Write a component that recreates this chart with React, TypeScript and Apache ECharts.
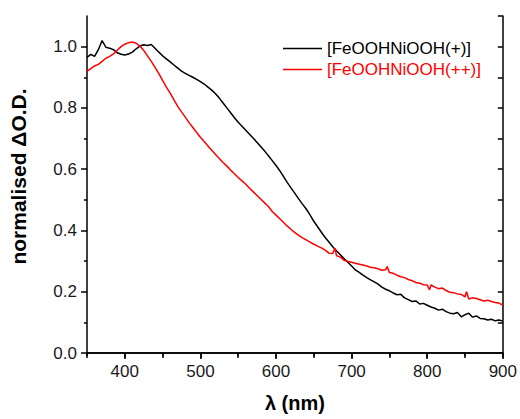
import React, { useEffect, useRef } from "react";
import * as echarts from "echarts";

const seriesNames = ["[FeOOHNiOOH(+)]", "[FeOOHNiOOH(++)]"];

// wavelength (nm), normalised ΔO.D.
const blackX = [350,355,360,365,370,375,380,385,390,395,400,405,410,415,420,425,430,435,440,445,450,455,460,465,470,475,480,485,490,495,500,505,510,515,520,525,530,535,540,545,550,555,560,565,570,575,580,585,590,595,600,605,610,615,620,625,630,635,640,645,650,655,660,665,670,675,680,685,690,695,700,705,710,715,720,725,730,735,740,745,750,755,760,765,770,775,780,785,790,795,800,805,810,815,820,825,830,835,840,845,850,855,860,865,870,875,880,885,890,895,900];
const blackY = [0.965,0.975,0.968,0.99,1.02,0.998,0.995,0.99,0.98,0.975,0.973,0.976,0.982,0.993,1.002,1.006,1.004,1.007,0.995,0.982,0.97,0.96,0.95,0.94,0.93,0.92,0.913,0.906,0.9,0.893,0.886,0.878,0.868,0.858,0.846,0.832,0.816,0.8,0.784,0.768,0.753,0.74,0.727,0.714,0.701,0.687,0.673,0.659,0.644,0.628,0.612,0.595,0.576,0.556,0.538,0.521,0.503,0.486,0.47,0.451,0.43,0.412,0.394,0.377,0.362,0.347,0.334,0.321,0.308,0.296,0.284,0.271,0.263,0.254,0.246,0.239,0.232,0.225,0.215,0.208,0.203,0.196,0.19,0.192,0.18,0.174,0.168,0.17,0.16,0.162,0.156,0.15,0.146,0.14,0.143,0.135,0.13,0.128,0.132,0.118,0.125,0.13,0.117,0.121,0.113,0.112,0.108,0.11,0.105,0.108,0.104];

const redX = [350,355,360,365,370,375,380,385,390,395,400,405,410,415,420,425,430,435,440,445,450,455,460,465,470,475,480,485,490,495,500,505,510,515,520,525,530,535,540,545,550,555,560,565,570,575,580,585,590,595,600,605,610,615,620,625,630,635,640,645,650,655,660,665,670,675,678,680,685,690,695,700,705,710,715,720,725,730,735,740,745,747,750,755,760,765,770,775,780,785,790,795,800,803,805,810,815,820,825,830,835,840,845,850,852,855,860,865,870,875,880,885,890,895,900];
const redY = [0.919,0.928,0.937,0.942,0.952,0.962,0.968,0.976,0.988,1.0,1.008,1.013,1.015,1.011,1.002,0.988,0.97,0.952,0.932,0.912,0.89,0.868,0.848,0.826,0.805,0.787,0.77,0.752,0.736,0.72,0.704,0.69,0.676,0.662,0.648,0.635,0.622,0.61,0.597,0.585,0.573,0.562,0.551,0.538,0.526,0.514,0.502,0.49,0.478,0.462,0.45,0.438,0.426,0.414,0.403,0.393,0.384,0.376,0.369,0.362,0.355,0.349,0.343,0.336,0.326,0.325,0.342,0.318,0.313,0.303,0.299,0.296,0.293,0.29,0.287,0.284,0.28,0.278,0.275,0.27,0.272,0.282,0.263,0.26,0.254,0.249,0.246,0.24,0.236,0.23,0.228,0.223,0.222,0.206,0.222,0.215,0.21,0.212,0.204,0.198,0.197,0.193,0.191,0.183,0.2,0.176,0.18,0.178,0.174,0.17,0.172,0.168,0.165,0.163,0.156];

const xMajorTicks = [400, 500, 600, 700, 800, 900];
const xMinorTicks = [350, 450, 550, 650, 750, 850];
const xTopTicks = [350, 400, 450, 500, 550, 600, 650, 700, 750, 800, 850, 900];
const yMajorTicks = [0, 0.2, 0.4, 0.6, 0.8, 1.0];
const yMinorTicks = [0.1, 0.3, 0.5, 0.7, 0.9];
const yRightTicks = [0, 0.1, 0.2, 0.3, 0.4, 0.5, 0.6, 0.7, 0.8, 0.9, 1.0, 1.1];

const FONT = "'Liberation Sans', Arial, sans-serif";
const AXIS_COLOR = "#000";

export default function App() {
  const ref = useRef<HTMLDivElement>(null);
  useEffect(() => {
    document.body.style.margin = "0";
    if (!ref.current) return;
    const chart = echarts.init(ref.current, null, { renderer: "svg" });
    const lineStyle = { color: AXIS_COLOR, width: 1.5 };
    const baseX = { type: "value", min: 350, max: 900, splitLine: { show: false } };
    const baseY = { type: "value", min: 0, max: 1.1, splitLine: { show: false } };
    chart.setOption({
      animation: false,
      backgroundColor: "#fff",
      grid: { left: 86, right: 16, top: 16, bottom: 66 },
      legend: {
        orient: "vertical",
        left: 283,
        top: 40,
        padding: 0,
        icon: "rect",
        itemWidth: 39,
        itemHeight: 1.5,
        itemGap: 4,
        textStyle: { fontFamily: FONT, fontSize: 17 },
        data: [
          { name: seriesNames[0], textStyle: { color: "#000" } },
          { name: seriesNames[1], textStyle: { color: "#ff0000" } },
        ],
      },
      xAxis: [
        {
          ...baseX,
          position: "bottom",
          name: "λ (nm)",
          nameLocation: "middle",
          nameGap: 40,
          nameTextStyle: { fontFamily: FONT, fontSize: 20, fontWeight: "bold", color: "#000" },
          axisLine: { show: true, lineStyle },
          axisTick: { show: true, inside: false, length: 6, customValues: xMajorTicks, lineStyle },
          axisLabel: { show: true, customValues: xMajorTicks, margin: 10, fontFamily: FONT, fontSize: 17, color: "#1a1a1a" },
        },
        {
          ...baseX,
          position: "bottom",
          axisLine: { show: false },
          axisTick: { show: true, inside: false, length: 3, customValues: xMinorTicks, lineStyle },
          axisLabel: { show: false },
        },
        {
          ...baseX,
          position: "top",
          axisLine: { show: true, lineStyle },
          axisTick: { show: true, inside: true, length: 5, customValues: xTopTicks, lineStyle },
          axisLabel: { show: false },
        },
      ],
      yAxis: [
        {
          ...baseY,
          position: "left",
          name: "normalised ΔO.D.",
          nameLocation: "middle",
          nameGap: 58,
          nameRotate: 90,
          nameTextStyle: {
            fontFamily: FONT,
            fontSize: 21,
            fontWeight: "bold",
            color: "#000",
            padding: [0, 0, 0, 16],
          },
          axisLine: { show: true, lineStyle },
          axisTick: { show: true, inside: false, length: 6, customValues: yMajorTicks, lineStyle },
          axisLabel: {
            show: true,
            customValues: yMajorTicks,
            margin: 10,
            fontFamily: FONT,
            fontSize: 17,
            color: "#1a1a1a",
            formatter: (v: number) => v.toFixed(1),
          },
        },
        {
          ...baseY,
          position: "left",
          axisLine: { show: false },
          axisTick: { show: true, inside: false, length: 3, customValues: yMinorTicks, lineStyle },
          axisLabel: { show: false },
        },
        {
          ...baseY,
          position: "right",
          axisLine: { show: true, lineStyle },
          axisTick: { show: true, inside: true, length: 5, customValues: yRightTicks, lineStyle },
          axisLabel: { show: false },
        },
      ],
      series: [
        {
          name: seriesNames[0],
          type: "line",
          xAxisIndex: 0,
          yAxisIndex: 0,
          showSymbol: false,
          symbol: "none",
          color: "#000",
          lineStyle: { color: "#000", width: 1.5 },
          data: blackX.map((x, i) => [x, blackY[i]]),
        },
        {
          name: seriesNames[1],
          type: "line",
          xAxisIndex: 0,
          yAxisIndex: 0,
          showSymbol: false,
          symbol: "none",
          color: "#ff0000",
          lineStyle: { color: "#ff0000", width: 1.5 },
          data: redX.map((x, i) => [x, redY[i]]),
        },
      ],
    });
    return () => chart.dispose();
  }, []);
  return <div ref={ref} style={{ width: 520, height: 419 }} />;
}
